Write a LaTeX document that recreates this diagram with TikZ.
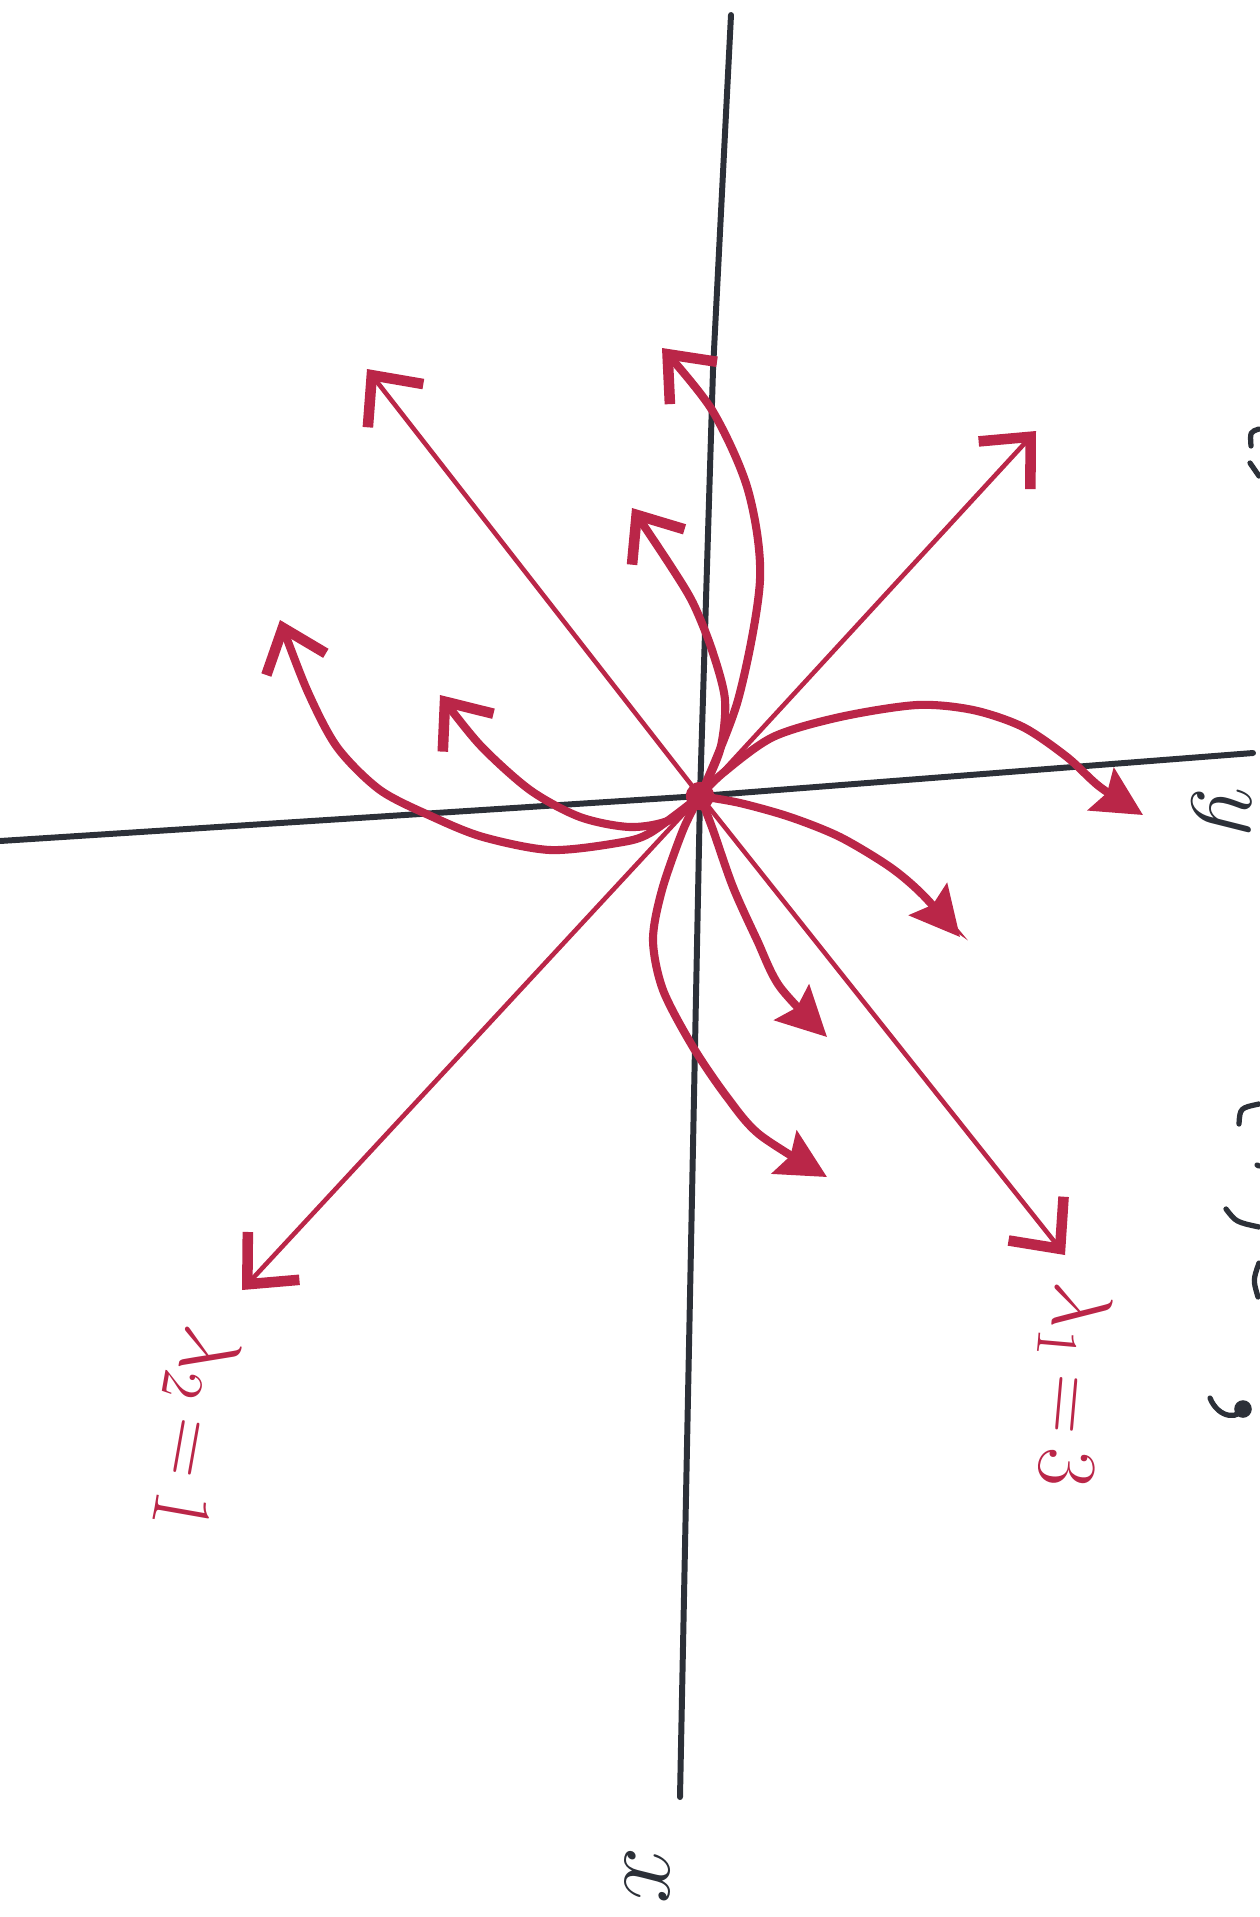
\documentclass[tikz,border=0pt]{standalone}
\usetikzlibrary{arrows.meta}
\definecolor{ink}{RGB}{186,38,72}
\definecolor{pen}{RGB}{44,48,56}
\tikzset{
    axis/.style={pen, line width=1.7pt, line cap=round},
    eig/.style={ink, line width=1.3pt, -{Straight Barb[length=11pt,width=20pt,line width=3pt]}},
    traj/.style={ink, line width=2.3pt, line cap=round},
    barb/.style={-{Straight Barb[length=11pt,width=18pt,line width=3pt]}},
    tri/.style={-{Stealth[length=14pt,width=14pt,inset=2pt]}},
    lab/.style={ink, font=\huge, scale=1.15, inner sep=0pt},
    frag/.style={pen, line width=1.5pt, line cap=round}
}
\begin{document}
\begin{tikzpicture}[x=0.01cm, y=-0.01cm]
    \fill[white] (0,0) rectangle (1259,1917);
    \useasboundingbox (0,0) rectangle (1259,1917);

    % axes
    \coordinate (O) at (700,796);
    \coordinate (ytop) at (731,15);
    \coordinate (ybot) at (680,1797);
    \coordinate (xleft) at (0,841);
    \coordinate (xright) at (1253,753);
    \draw[axis] (ytop) -- (713,370) -- (O) -- (ybot);
    \draw[axis] (xleft) -- (O) -- (xright);

    % eigenvector lines
    \coordinate (ul) at (367,369);
    \coordinate (lr) at (1065,1255);
    \coordinate (ur) at (1036,431);
    \coordinate (ll) at (242,1290);
    \foreach \e in {ul,lr,ur,ll}
        \draw[eig] (O) -- (\e);

    % trajectories
    \draw[traj, barb] plot[smooth] coordinates
        {(O) (738,700) (760,580) (748,490) (712,410) (662,348)};
    \draw[traj, barb] plot[smooth] coordinates
        {(O) (720,750) (725,700) (712,650) (693,603) (670,565) (632,508)};
    \draw[traj, barb] plot[smooth] coordinates
        {(O) (650,833) (617,843) (550,850) (483,837) (433,817) (380,790) (337,747) (307,690) (280,620)};
    \draw[traj, barb] plot[smooth] coordinates
        {(O) (670,820) (630,827) (580,817) (530,790) (480,745) (440,695)};
    \draw[traj, tri] plot[smooth] coordinates
        {(O) (723,773) (773,737) (840,717) (917,705) (973,710) (1023,727) (1067,757) (1100,787) (1143,815)};
    \draw[traj, tri] plot[smooth] coordinates
        {(O) (740,803) (790,817) (840,837) (890,867) (923,895) (960,937)};
    \draw[traj, tri] plot[smooth] coordinates
        {(O) (713,830) (733,887) (757,940) (780,987) (827,1037)};
    \draw[traj, tri] plot[smooth] coordinates
        {(O) (683,830) (662,890) (653,940) (663,990) (693,1047) (727,1097) (760,1135) (827,1177)};
    \fill[ink] (O) circle (4pt);

    % labels
    \node[lab, rotate=-100] (lamtwo) at (192,1428) {$\lambda_{2}\,{=}\,1$};
    \node[lab, rotate=-95] (lamone) at (1070,1385) {$\lambda_{1}\,{=}\,3$};
    \node[pen, font=\huge, scale=1.4, rotate=-90] (xlab) at (647,1877) {$x$};
    \node[pen, font=\huge, scale=1.3, rotate=-90, inner sep=0pt] (ylab) at (1222,812) {$y$};

    % cut-off writing on the right edge
    \draw[frag] (1259,429) .. controls (1250,432) .. (1251,446);
    \draw[frag] (1250,463) -- (1259,476);
    \draw[frag] (1239,1124) .. controls (1240,1108) .. (1259,1104);
    \draw[frag] (1257,1165) -- (1259,1166);
    \draw[frag] (1226,1209) .. controls (1236,1222) .. (1259,1227);
    \draw[frag] (1259,1263) .. controls (1253,1280) .. (1258,1297);
    \draw[frag] (1210,1398) .. controls (1218,1418) and (1240,1422) .. (1246,1404);
    \fill[pen] (1243,1409) circle (2.5pt);
\end{tikzpicture}
\end{document}
